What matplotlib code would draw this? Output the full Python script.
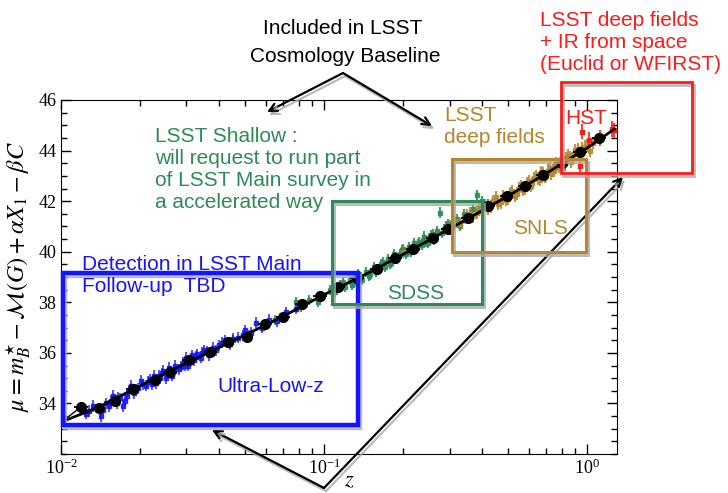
import matplotlib
matplotlib.use("Agg")
import matplotlib.pyplot as plt
import matplotlib.patheffects as pe
from matplotlib.patches import Rectangle
from matplotlib.ticker import MultipleLocator, LogLocator, NullFormatter, FixedLocator

plt.rcParams['font.family'] = ['Liberation Serif', 'DejaVu Serif']
plt.rcParams['mathtext.fontset'] = 'stix'

# ultra low-z (blue)
lowz_z = [0.0125, 0.0132, 0.0142, 0.0148, 0.0152, 0.0158, 0.0163, 0.0168, 0.0172, 0.0178,
          0.0185, 0.019, 0.0196, 0.0202, 0.021, 0.0218, 0.0225, 0.023, 0.0238, 0.0245,
          0.025, 0.0258, 0.0265, 0.0272, 0.028, 0.029, 0.0298, 0.0305, 0.0315, 0.032,
          0.033, 0.034, 0.035, 0.0365, 0.038, 0.04, 0.042, 0.044, 0.047, 0.05,
          0.053, 0.055, 0.058, 0.062, 0.066, 0.072, 0.078,
          0.0128, 0.0145, 0.0155, 0.0165, 0.0175, 0.0182, 0.0192, 0.0205, 0.0215, 0.0222,
          0.0235, 0.0242, 0.0255, 0.0268, 0.0285, 0.0295, 0.031, 0.0325, 0.0345, 0.036,
          0.039, 0.041, 0.045, 0.049]
lowz_mu = [33.6, 33.9, 33.5, 34.0, 33.9, 34.3, 34.0, 34.2, 33.9, 34.3,
           34.7, 34.4, 34.6, 34.9, 34.7, 34.95, 35.1, 34.8, 35.0, 35.3,
           35.0, 35.4, 35.1, 35.5, 35.35, 35.6, 35.8, 35.5, 35.9, 35.7,
           35.95, 35.8, 36.1, 35.9, 36.2, 36.3, 36.5, 36.35, 36.6, 36.9,
           36.8, 37.2, 37.0, 37.3, 37.25, 37.6, 37.75,
           33.7, 33.75, 34.1, 34.25, 34.1, 34.5, 34.55, 34.75, 34.85, 34.75,
           35.1, 35.2, 35.2, 35.3, 35.45, 35.5, 35.7, 35.85, 36.0, 36.05,
           36.1, 36.4, 36.55, 36.7]
lowz_err = 0.22

# SDSS (green)
sdss_z = [0.045, 0.052, 0.065, 0.078, 0.082, 0.088, 0.095, 0.105, 0.11, 0.115,
          0.12, 0.125, 0.13, 0.135, 0.14, 0.145, 0.15, 0.155, 0.16, 0.165,
          0.17, 0.175, 0.18, 0.185, 0.19, 0.195, 0.2, 0.205, 0.21, 0.215,
          0.22, 0.225, 0.23, 0.235, 0.24, 0.245, 0.25, 0.26, 0.265, 0.27,
          0.276, 0.28, 0.29, 0.3, 0.31, 0.32, 0.33, 0.34, 0.35, 0.37,
          0.38, 0.39, 0.4,
          0.11, 0.118, 0.128, 0.138, 0.148, 0.158, 0.168, 0.178, 0.188, 0.198,
          0.208, 0.218, 0.228, 0.238, 0.248, 0.255, 0.262, 0.285, 0.295, 0.305,
          0.315, 0.325, 0.36, 0.4, 0.42]
sdss_mu = [36.5, 36.7, 37.3, 38.0, 37.8, 38.1, 38.0, 38.5, 38.4, 38.7,
           38.6, 38.9, 38.8, 39.1, 38.9, 39.2, 39.1, 39.4, 39.3, 39.5,
           39.4, 39.7, 39.55, 39.9, 39.7, 39.9, 40.1, 39.9, 40.2, 40.0,
           40.35, 40.15, 40.4, 40.25, 40.6, 40.4, 40.55, 40.7, 40.5, 40.8,
           41.55, 40.75, 41.0, 40.9, 41.1, 41.3, 41.0, 41.5, 41.3, 41.7,
           42.26, 41.6, 42.0,
           38.55, 38.8, 38.7, 39.0, 39.05, 39.2, 39.6, 39.5, 39.75, 40.05,
           40.05, 40.1, 40.3, 40.45, 40.35, 40.65, 40.45, 40.9, 41.1, 40.85,
           41.2, 41.15, 41.45, 41.75, 41.9]
sdss_err = 0.2

# SNLS (gold)
snls_z = [0.2, 0.26, 0.3, 0.32, 0.34, 0.36, 0.38, 0.4, 0.42, 0.44,
          0.45, 0.46, 0.47, 0.48, 0.5, 0.52, 0.54, 0.55, 0.56, 0.57,
          0.58, 0.6, 0.62, 0.64, 0.65, 0.66, 0.67, 0.68, 0.7, 0.72,
          0.74, 0.75, 0.76, 0.77, 0.78, 0.8, 0.82, 0.83, 0.85, 0.87,
          0.88, 0.9, 0.93, 0.96, 1.0, 1.03,
          0.33, 0.35, 0.37, 0.39, 0.41, 0.43, 0.49, 0.51, 0.53, 0.59,
          0.61, 0.63, 0.69, 0.71, 0.73, 0.79, 0.81, 0.84, 0.86, 0.89,
          0.92, 0.95, 0.98, 1.05]
snls_mu = [40.0, 40.6, 41.0, 41.2, 41.35, 41.5, 41.55, 41.75, 41.7, 42.0,
           42.15, 41.9, 41.95, 42.2, 42.1, 42.4, 42.3, 42.5, 42.6, 42.45,
           42.5, 42.8, 42.7, 43.0, 42.9, 42.85, 43.15, 43.1, 43.0, 43.3,
           43.2, 43.2, 43.5, 43.45, 43.35, 43.6, 43.5, 43.7, 43.8, 43.55,
           43.7, 44.0, 43.85, 44.1, 44.2, 44.0,
           41.1, 41.45, 41.4, 41.7, 41.85, 41.8, 42.05, 42.3, 42.2, 42.7,
           42.6, 42.9, 42.95, 43.2, 43.1, 43.5, 43.4, 43.6, 43.75, 43.85,
           44.05, 43.9, 44.15, 44.3]
snls_err = 0.25

# HST (red)
hst_z = [0.825, 0.94, 0.96, 1.02, 1.12, 1.24, 1.27]
hst_mu = [43.5, 43.38, 44.75, 44.43, 44.5, 44.85, 44.8]
hst_err = 0.3

# binned distance moduli (black)
bin_z = [0.0119, 0.0139, 0.0160, 0.0188, 0.0228, 0.0260, 0.0307, 0.0369, 0.0430, 0.0508,
         0.0597, 0.0700, 0.0822, 0.0966, 0.1133, 0.134, 0.1586, 0.1862, 0.2187, 0.259,
         0.297, 0.352, 0.4214, 0.495, 0.581, 0.678, 0.80, 0.94, 1.114]
bin_mu = [33.86, 33.80, 34.08, 34.58, 34.91, 35.24, 35.70, 36.05, 36.42, 36.64,
          37.14, 37.40, 37.93, 38.23, 38.62, 38.95, 39.31, 39.77, 40.12, 40.55,
          40.88, 41.32, 41.80, 42.20, 42.59, 43.05, 43.50, 43.96, 44.49]
bin_err = [0.2, 0.08, 0.08, 0.07, 0.07, 0.07, 0.07, 0.07, 0.07, 0.07,
           0.07, 0.07, 0.07, 0.07, 0.07, 0.07, 0.07, 0.07, 0.07, 0.07,
           0.07, 0.07, 0.07, 0.07, 0.07, 0.07, 0.07, 0.08, 0.2]
bin_zfrac = 0.06

# model curve
model_z = [0.0101, 0.0139, 0.02, 0.03, 0.05, 0.07, 0.1, 0.15, 0.2, 0.3, 0.5, 0.7, 1.0, 1.27]
model_mu = [33.28, 33.85, 34.7, 35.6, 36.7, 37.45, 38.3, 39.2, 39.9, 40.9, 42.2, 43.1, 44.1, 44.85]

yticks = [34, 36, 38, 40, 42, 44, 46]

W, H = 728, 493
fig = plt.figure(figsize=(W / 100, H / 100), dpi=100)
ax = fig.add_axes([61 / W, 1 - 454 / H, 556 / W, 354 / H])

def fx(px):
    return px / W

def fy(py):
    return 1 - py / H

blue = '#1414ff'
green = '#2e8b57'
gold = '#b5862a'
red = '#ff1a1a'

ax.errorbar(sdss_z, sdss_mu, yerr=sdss_err, fmt='s', ms=2.5, color=green, ecolor=green,
            elinewidth=1.6, alpha=0.85, zorder=2)
ax.errorbar(lowz_z, lowz_mu, yerr=lowz_err, fmt='s', ms=2.5, color=blue, ecolor=blue,
            elinewidth=1.2, alpha=0.85, zorder=2)
ax.errorbar(snls_z, snls_mu, yerr=snls_err, fmt='s', ms=2.5, color=gold, ecolor=gold,
            elinewidth=1.6, alpha=0.85, zorder=2)
ax.errorbar(hst_z, hst_mu, yerr=hst_err, fmt='s', ms=2.5, color=red, ecolor=red,
            elinewidth=1.2, zorder=3)

ax.plot(model_z, model_mu, color='black', lw=2, zorder=4)
ax.plot([model_z[0], bin_z[0]], [model_mu[0], bin_mu[0]], color='black', lw=1, zorder=4)
xerr = [z * bin_zfrac for z in bin_z]
ax.errorbar(bin_z, bin_mu, yerr=bin_err, xerr=xerr, fmt='o', ms=7, color='black',
            ecolor='black', elinewidth=1.3, capsize=0, zorder=5)

ax.set_xscale('log')
ax.set_xlim(0.01, 1.3)
ax.set_ylim(32, 46)
ax.yaxis.set_major_locator(FixedLocator(yticks))
ax.yaxis.set_minor_locator(MultipleLocator(0.5))
ax.xaxis.set_major_locator(LogLocator(base=10))
ax.xaxis.set_minor_locator(LogLocator(base=10, subs=range(2, 10)))
ax.xaxis.set_minor_formatter(NullFormatter())
ax.tick_params(which='both', direction='in', top=True, right=True, labelsize=13)
ax.tick_params(which='major', length=7, width=1)
ax.tick_params(which='minor', length=4, width=1)
ax.set_ylabel(r'$\mu = m_B^{\star} - \mathcal{M}(G) + \alpha X_1 - \beta C$', fontsize=17.5, labelpad=4)
fig.text(fx(349), fy(491), r'$z$', fontsize=16, ha='center', va='bottom')

shadow = [pe.SimpleLineShadow(offset=(1.5, -2.2), shadow_color='#aaaaaa', alpha=0.8), pe.Normal()]

# survey boxes (data coordinates)
boxes = [
    (0.01018, 33.13, 0.1347, 39.15, blue, 3.2),
    (0.107, 37.93, 0.3977, 42.0, green, 2.2),
    (0.306, 39.99, 0.991, 43.66, gold, 2.2),
    (0.794, 43.11, 2.5, 46.72, red, 2.0),
]
for x0, y0, x1, y1, c, lw in boxes:
    r = Rectangle((x0, y0), x1 - x0, y1 - y0, fill=False, edgecolor=c, lw=lw,
                  clip_on=False, zorder=6, path_effects=shadow)
    ax.add_patch(r)

sans = ['Liberation Sans', 'DejaVu Sans']
fs = 15
fig.text(fx(343), fy(29), 'Included in LSST', family=sans, fontsize=fs, ha='center', va='center')
fig.text(fx(345), fy(56), 'Cosmology Baseline', family=sans, fontsize=fs, ha='center', va='center')
fig.text(fx(155), fy(169), 'LSST Shallow :\nwill request to run part\nof LSST Main survey in\na accelerated way',
         family=sans, fontsize=fs, color=green, ha='left', va='center', linespacing=1.2)
fig.text(fx(82), fy(275.5), 'Detection in LSST Main\nFollow-up  TBD', family=sans, fontsize=fs,
         color=blue, ha='left', va='center')
fig.text(fx(217), fy(386.7), 'Ultra-Low-z', family=sans, fontsize=fs, color=blue, ha='left', va='center')
fig.text(fx(387), fy(293.3), 'SDSS', family=sans, fontsize=fs, color=green, ha='left', va='center')
fig.text(fx(513), fy(228.3), 'SNLS', family=sans, fontsize=fs, color=gold, ha='left', va='center')
fig.text(fx(444), fy(126.7), 'LSST\ndeep fields', family=sans, fontsize=fs, color=gold, ha='left', va='center')
fig.text(fx(565), fy(118.3), 'HST', family=sans, fontsize=fs, color=red, ha='left', va='center')
fig.text(fx(540), fy(42), 'LSST deep fields\n+ IR from space\n(Euclid or WFIRST)', family=sans,
         fontsize=fs, color=red, ha='left', va='center')

arrows = [
    ((343, 73), (267, 112)),
    ((343, 73), (432, 126)),
    ((324, 488), (212, 430)),
    ((324, 488), (623, 177)),
]
for (sx, sy), (ex, ey) in arrows:
    ax.annotate('', xy=(fx(ex), fy(ey)), xytext=(fx(sx), fy(sy)),
                xycoords='figure fraction', textcoords='figure fraction',
                annotation_clip=False,
                arrowprops=dict(arrowstyle='->', color='black', lw=1.6,
                                shrinkA=0, shrinkB=0, mutation_scale=14,
                                path_effects=shadow))

fig.savefig('out.png', dpi=100)
